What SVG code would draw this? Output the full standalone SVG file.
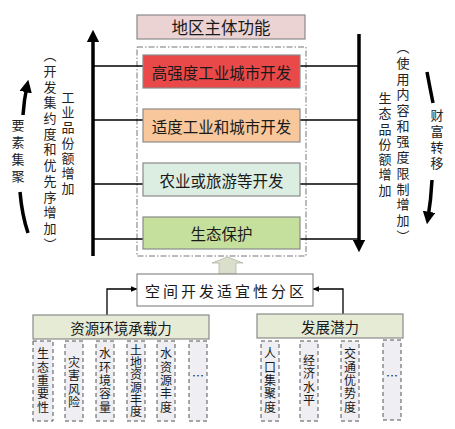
<svg xmlns="http://www.w3.org/2000/svg" width="455" height="429" viewBox="0 0 455 429">
<defs>
<style>
text{font-family:"Noto Sans CJK SC","Noto Sans",sans-serif;fill:#1a1a1a}
.box{stroke:#8a8a8a;stroke-width:1.2}
.t15{font-size:15.5px;text-anchor:middle;dominant-baseline:central}
.vt{font-size:13px;writing-mode:vertical-rl;fill:#222}
.sm{font-size:12px;writing-mode:vertical-rl;text-anchor:middle;letter-spacing:1.3px}
.db{fill:#efeff3;stroke:#555;stroke-width:1;stroke-dasharray:4 3}
.ln{stroke:#000;stroke-width:1.3;fill:none}
.thick{stroke:#000;stroke-width:3.5;fill:none}
</style>
<marker id="big" viewBox="0 0 10 10" refX="5" refY="5" markerWidth="3.6" markerHeight="3.6" orient="auto"><path d="M0,0 L10,5 L0,10 z" fill="#000"/></marker>
<marker id="sm" viewBox="0 0 10 10" refX="9" refY="5" markerWidth="7" markerHeight="7" markerUnits="userSpaceOnUse" orient="auto"><path d="M0,1 L10,5 L0,9 z" fill="#000"/></marker>
</defs>

<g id="title"><rect class="box" x="137" y="15" width="168" height="24" fill="#ecd3d3"/><text class="t15" x="221" y="27" style="font-size:16.5px">地区主体功能</text></g>

<g id="frame"><rect x="137" y="47" width="169" height="209" fill="none" stroke="#777" stroke-width="1" stroke-dasharray="6 2 1.5 2"/></g>

<g id="connectors">
<line class="thick" x1="93" y1="256" x2="93" y2="36" marker-end="url(#big)"/>
<line class="thick" x1="359" y1="34" x2="359" y2="246" marker-end="url(#big)"/>
<line class="ln" x1="93" y1="66" x2="143" y2="66"/>
<line class="ln" x1="93" y1="120" x2="143" y2="120"/>
<line class="ln" x1="93" y1="184" x2="143" y2="184"/>
<line class="ln" x1="93" y1="239" x2="143" y2="239"/>
<line class="ln" x1="300" y1="66" x2="359" y2="66"/>
<line class="ln" x1="300" y1="120" x2="359" y2="120"/>
<line class="ln" x1="300" y1="184" x2="359" y2="184"/>
<line class="ln" x1="300" y1="239" x2="359" y2="239"/>
<polyline class="ln" points="107,315 107,289 137,289" marker-end="url(#sm)"/>
<polyline class="ln" points="343,314 343,289 313,289" marker-end="url(#sm)"/>
<path d="M219,274 L219,263 L212,263 L227.5,257 L243,263 L236,263 L236,274 Z" fill="#d9dfca" stroke="#b0b5a5" stroke-width="0.8"/>
<path class="thick" d="M20,192 Q22,215 28,233" stroke-width="3"/>
<path class="thick" d="M23,115 Q24,100 27,86" stroke-width="3" marker-end="url(#big)"/>
<path class="thick" d="M427,72 Q430,88 433,103" stroke-width="3"/>
<path class="thick" d="M432,180 Q431,200 428,218" stroke-width="3" marker-end="url(#big)"/>
</g>

<g id="n1"><rect class="box" x="143" y="55" width="157" height="33" fill="#e94949"/><text class="t15" x="221.5" y="72">高强度工业城市开发</text></g>
<g id="n2"><rect class="box" x="143" y="109" width="157" height="33" fill="#f8c79b"/><text class="t15" x="221.5" y="126">适度工业和城市开发</text></g>
<g id="n3"><rect class="box" x="143" y="163" width="157" height="33" fill="#dcede2"/><text class="t15" x="221.5" y="180">农业或旅游等开发</text></g>
<g id="n4"><rect class="box" x="143" y="217" width="157" height="32" fill="#c4e09c"/><text class="t15" x="221.5" y="233">生态保护</text></g>

<g id="zone"><rect class="box" x="137" y="274" width="176" height="32" fill="#fff"/><text class="t15" x="226" y="290" style="font-size:15px;letter-spacing:3px">空间开发适宜性分区</text></g>

<g id="res"><rect class="box" x="33" y="315" width="176" height="24" fill="#e6ebd6"/><text class="t15" x="121" y="327" style="font-size:14.5px">资源环境承载力</text></g>
<g id="dev"><rect class="box" x="257" y="314" width="146" height="24" fill="#e6ebd6"/><text class="t15" x="330" y="326" style="font-size:14.5px">发展潜力</text></g>

<g id="r1"><rect class="db" x="33" y="341" width="20" height="80"/><text class="sm" x="43" y="381">生态重要性</text></g>
<g id="r2"><rect class="db" x="65" y="341" width="18" height="80"/><text class="sm" x="74" y="383">灾害风险</text></g>
<g id="r3"><rect class="db" x="96" y="341" width="18" height="80"/><text class="sm" x="105" y="381">水环境容量</text></g>
<g id="r4"><rect class="db" x="127" y="341" width="18" height="80"/><text class="sm" x="136" y="381" style="letter-spacing:0.3px">土地资源丰度</text></g>
<g id="r5"><rect class="db" x="157" y="341" width="18" height="80"/><text class="sm" x="166" y="381">水资源丰度</text></g>
<g id="r6"><rect class="db" x="189" y="341" width="18" height="80"/><text x="198" y="381" style="font-size:12px;text-anchor:middle">…</text></g>

<g id="d1"><rect class="db" x="261" y="341" width="18" height="80"/><text class="sm" x="270" y="381">人口集聚度</text></g>
<g id="d2"><rect class="db" x="300" y="341" width="18" height="80"/><text class="sm" x="309" y="381">经济水平</text></g>
<g id="d3"><rect class="db" x="341" y="341" width="18" height="80"/><text class="sm" x="350" y="381">交通优势度</text></g>
<g id="d4"><rect class="db" x="383" y="340" width="18" height="80"/><text x="392" y="381" style="font-size:12px;text-anchor:middle">…</text></g>

<g id="labels">
<text class="vt" x="68" y="90.5" style="letter-spacing:2.2px">工业品份额增加</text>
<text class="vt" x="50" y="48.8" style="letter-spacing:2.7px">（开发集约度和优先序增加）</text>
<text class="vt" x="18" y="118.5" style="letter-spacing:4px">要素集聚</text>
<text class="vt" x="385" y="91.5" style="letter-spacing:2.3px">生态品份额增加</text>
<text class="vt" x="403" y="40.8" style="letter-spacing:2.7px">（使用内容和强度限制增加）</text>
<text class="vt" x="437" y="108.5" style="letter-spacing:3px">财富转移</text>
</g>
</svg>
